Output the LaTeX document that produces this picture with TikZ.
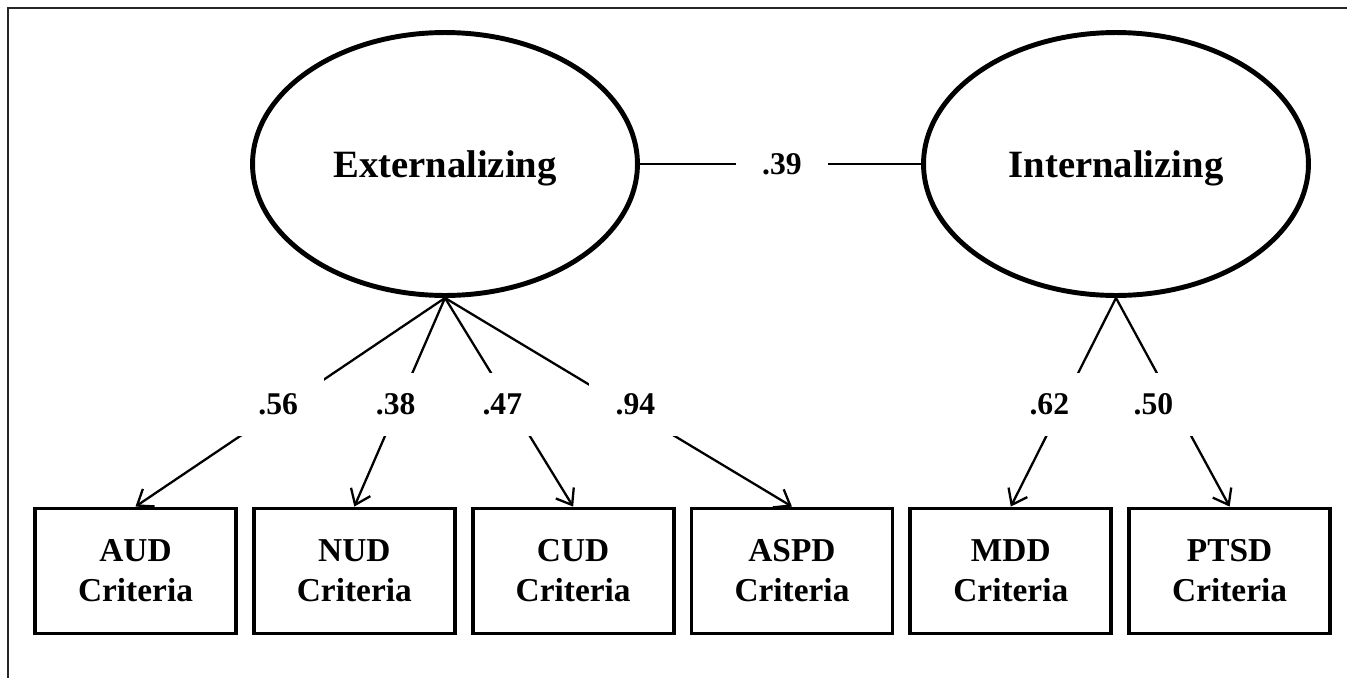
\documentclass[tikz,border=0pt]{standalone}
\usepackage{fontspec}
\setmainfont{Liberation Serif}
\usetikzlibrary{shapes.geometric, arrows.meta, positioning}

\begin{document}
\begin{tikzpicture}[x=0.02cm, y=-0.02cm]
    % --- Style Definitions ---
    \tikzset{
        factor style/.style={
            ellipse,
            draw=black,
            line width=2.8pt,
            minimum width=7.7cm,
            minimum height=5.26cm,
            inner sep=0pt,
            text depth=0pt,
            font=\fontsize{22}{26}\selectfont\bfseries
        },
        criteria style/.style={
            rectangle,
            draw=black,
            line width=2.2pt,
            minimum width=4.02cm,
            minimum height=2.5cm,
            align=center,
            font=\fontsize{19}{22.7}\selectfont\bfseries
        },
        coef text/.style={
            fill=white,
            inner sep=0pt,
            minimum width=1.84cm,
            minimum height=1.26cm,
            font=\fontsize{18}{21}\selectfont\bfseries
        },
        loading arrow/.style={
            -{Straight Barb[length=8pt, width=12pt]},
            line width=1.3pt,
            black
        },
        frame style/.style={
            draw=black!85,
            line width=1.3pt
        }
    }

    \useasboundingbox (0,0) rectangle (1347,677);
    \clip (0,0) rectangle (1347,677);

    % --- 1. Outer frame (runs off on the right and bottom) ---
    \draw[frame style] (8,8) rectangle (1380,700);

    % --- 2. Latent factors ---
    \node[factor style] (ext) at (445,164) {Externalizing};
    \node[factor style] (int) at (1116,164) {Internalizing};

    % --- 3. Criteria boxes ---
    \node[criteria style] (aud) at (135.5,571) {AUD\\Criteria};
    \node[criteria style, right=0.28cm of aud] (nud) {NUD\\Criteria};
    \node[criteria style, right=0.28cm of nud] (cud) {CUD\\Criteria};
    \node[criteria style, right=0.28cm of cud] (aspd) {ASPD\\Criteria};
    \node[criteria style, right=0.28cm of aspd] (mdd) {MDD\\Criteria};
    \node[criteria style, right=0.28cm of mdd] (ptsd) {PTSD\\Criteria};

    % --- 4. Factor correlation ---
    \draw[line width=1.1pt] (ext.east) -- node[coef text, pos=0.505] {.39} (int.west);

    % --- 5. Loadings ---
    % labels sit on the lines, nudged sideways as in the original
    \draw[loading arrow] (ext.south) -- node[coef text, pos=0.51, xshift=-0.18cm] {.56} (aud.north);
    \draw[loading arrow] (ext.south) -- node[coef text, pos=0.51, xshift=-0.06cm] {.38} (nud.north);
    \draw[loading arrow] (ext.south) -- node[coef text, pos=0.51, xshift=-0.16cm] {.47} (cud.north);
    \draw[loading arrow] (ext.south) -- node[coef text, pos=0.51, xshift=0.27cm] {.94} (aspd.north);
    \draw[loading arrow] (int.south) -- node[coef text, pos=0.51, xshift=-0.26cm] {.62} (mdd.north);
    \draw[loading arrow] (int.south) -- node[coef text, pos=0.51, xshift=-0.41cm] {.50} (ptsd.north);

\end{tikzpicture}
\end{document}
